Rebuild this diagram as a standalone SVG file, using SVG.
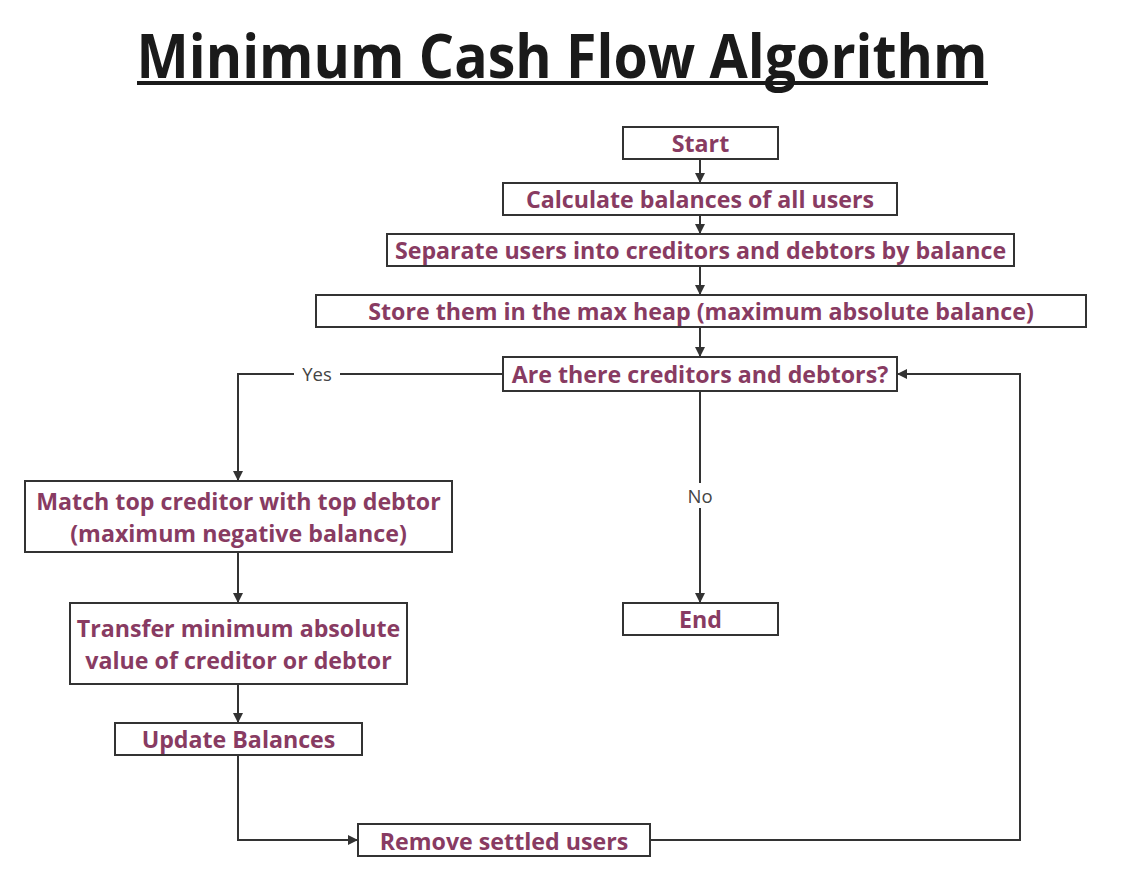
<svg xmlns="http://www.w3.org/2000/svg" width="1127" height="886" viewBox="0 0 1127 886">
<defs>
<marker id="arr" viewBox="0 0 10 10" refX="10" refY="5" markerWidth="10" markerHeight="10" markerUnits="userSpaceOnUse" orient="auto">
<path d="M0,0 L10,5 L0,10 Z" fill="#333"/>
</marker>
<style>
.box{fill:#fff;stroke:#333;stroke-width:2}
.t{font-family:"Open Sans",sans-serif;font-weight:bold;font-size:23.2px;fill:#883b62;text-anchor:middle}
.lbl{font-family:"Open Sans",sans-serif;font-size:18.5px;fill:#444;text-anchor:middle}
.c{fill:none;stroke:#333;stroke-width:2}
</style>
</defs>
<rect width="1127" height="886" fill="#fff"/>
<g id="title">
<text x="562" y="78" font-family="'Open Sans',sans-serif" font-weight="bold" font-size="60" fill="#1a1a1a" text-anchor="middle" textLength="851" lengthAdjust="spacingAndGlyphs">Minimum Cash Flow Algorithm</text>
<rect x="137" y="81" width="851" height="4" fill="#1a1a1a"/>
</g>
<g id="connectors">
<line class="c" x1="700" y1="159" x2="700" y2="183" marker-end="url(#arr)"/>
<line class="c" x1="700" y1="215" x2="700" y2="234" marker-end="url(#arr)"/>
<line class="c" x1="700" y1="266" x2="700" y2="295" marker-end="url(#arr)"/>
<line class="c" x1="700" y1="327" x2="700" y2="357" marker-end="url(#arr)"/>
<path class="c" d="M700,391 V483"/>
<path class="c" d="M700,508 V603" marker-end="url(#arr)"/>
<text class="lbl" x="700" y="503">No</text>
<path class="c" d="M503,374 H340"/>
<path class="c" d="M294,374 H238 V481" marker-end="url(#arr)"/>
<text class="lbl" x="317" y="381">Yes</text>
<line class="c" x1="238" y1="552" x2="238" y2="603" marker-end="url(#arr)"/>
<line class="c" x1="238" y1="684" x2="238" y2="723" marker-end="url(#arr)"/>
<path class="c" d="M238,755 V840 H358" marker-end="url(#arr)"/>
<path class="c" d="M650,840 H1020 V374 H897" marker-end="url(#arr)"/>
</g>
<g id="start"><rect class="box" x="623" y="127" width="155" height="32"/><text class="t" x="700.5" y="151.5">Start</text></g>
<g id="calc"><rect class="box" x="503" y="183" width="394" height="32"/><text class="t" x="700" y="207.5">Calculate balances of all users</text></g>
<g id="separate"><rect class="box" x="387" y="234" width="627" height="32"/><text class="t" x="700.5" y="258.5">Separate users into creditors and debtors by balance</text></g>
<g id="store"><rect class="box" x="316" y="295" width="770" height="32"/><text class="t" x="701" y="319.5">Store them in the max heap (maximum absolute balance)</text></g>
<g id="decision"><rect class="box" x="503" y="357" width="394" height="34"/><text class="t" x="700" y="382.5">Are there creditors and debtors?</text></g>
<g id="match"><rect class="box" x="25" y="481" width="427" height="71"/><text class="t" x="238.5" y="509.5">Match top creditor with top debtor</text><text class="t" x="238.5" y="541.5">(maximum negative balance)</text></g>
<g id="transfer"><rect class="box" x="70" y="603" width="337" height="81"/><text class="t" x="238.5" y="636.5">Transfer minimum absolute</text><text class="t" x="238.5" y="668.5">value of creditor or debtor</text></g>
<g id="update"><rect class="box" x="115" y="723" width="247" height="32"/><text class="t" x="238.5" y="747.5">Update Balances</text></g>
<g id="end"><rect class="box" x="623" y="603" width="155" height="32"/><text class="t" x="700.5" y="627.5">End</text></g>
<g id="remove"><rect class="box" x="358" y="824" width="292" height="32"/><text class="t" x="504" y="849.5">Remove settled users</text></g>
</svg>
